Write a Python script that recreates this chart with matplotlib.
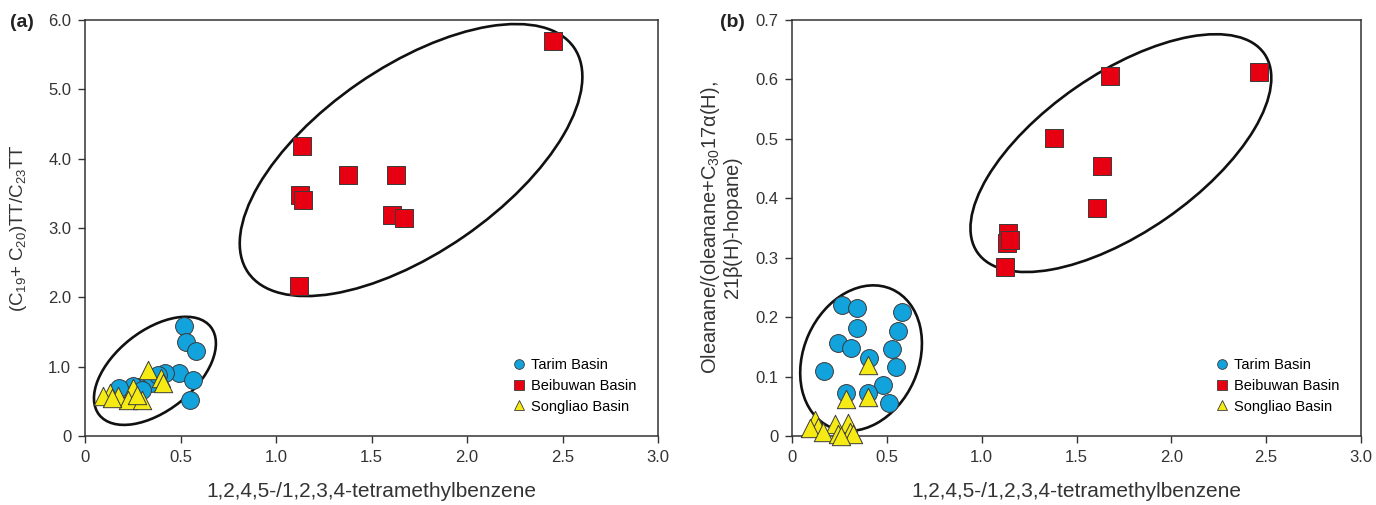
import matplotlib
matplotlib.use("Agg")
import matplotlib.pyplot as plt
import matplotlib.transforms as mtransforms
from matplotlib.patches import Ellipse
from matplotlib.lines import Line2D

plt.rcParams['font.family'] = ['Liberation Sans', 'DejaVu Sans']
plt.rcParams['mathtext.fontset'] = 'custom'
plt.rcParams['mathtext.rm'] = 'Liberation Sans'
plt.rcParams['mathtext.it'] = 'Liberation Sans:italic'
plt.rcParams['mathtext.default'] = 'regular'

# ---------------- data: panel (a) ----------------
tarim_a_x = [0.518, 0.529, 0.581, 0.490, 0.419, 0.564, 0.550, 0.346, 0.279, 0.253, 0.180, 0.380, 0.300]
tarim_a_y = [1.59, 1.36, 1.23, 0.91, 0.91, 0.81, 0.52, 0.77, 0.71, 0.72, 0.69, 0.88, 0.66]
beibu_a_x = [2.45, 1.136, 1.126, 1.14, 1.377, 1.628, 1.607, 1.67, 1.12]
beibu_a_y = [5.70, 4.18, 3.48, 3.40, 3.76, 3.76, 3.19, 3.14, 2.16]
song_a_x = [0.332, 0.400, 0.410, 0.253, 0.131, 0.096, 0.174, 0.227, 0.297, 0.140, 0.270]
song_a_y = [0.95, 0.83, 0.76, 0.69, 0.62, 0.57, 0.57, 0.52, 0.52, 0.55, 0.59]

# ---------------- data: panel (b) ----------------
tarim_b_x = [0.265, 0.341, 0.578, 0.344, 0.560, 0.241, 0.311, 0.525, 0.408, 0.548, 0.169, 0.481, 0.283, 0.402, 0.513]
tarim_b_y = [0.220, 0.215, 0.208, 0.181, 0.177, 0.157, 0.148, 0.146, 0.132, 0.116, 0.109, 0.086, 0.072, 0.073, 0.055]
beibu_b_x = [2.463, 1.676, 1.381, 1.633, 1.606, 1.137, 1.132, 1.149, 1.123]
beibu_b_y = [0.613, 0.605, 0.502, 0.454, 0.383, 0.342, 0.324, 0.330, 0.285]
song_b_x = [0.402, 0.283, 0.402, 0.121, 0.139, 0.227, 0.297, 0.095, 0.165, 0.244, 0.306, 0.320, 0.260]
song_b_y = [0.119, 0.063, 0.066, 0.027, 0.016, 0.020, 0.022, 0.013, 0.007, 0.003, 0.007, 0.003, 0.000]

x_ticks = [0, 0.5, 1.0, 1.5, 2.0, 2.5, 3.0]
x_ticklabels = ['0', '0.5', '1.0', '1.5', '2.0', '2.5', '3.0']
ya_ticks = [0, 1, 2, 3, 4, 5, 6]
ya_ticklabels = ['0', '1.0', '2.0', '3.0', '4.0', '5.0', '6.0']
yb_ticks = [0, 0.1, 0.2, 0.3, 0.4, 0.5, 0.6, 0.7]
yb_ticklabels = ['0', '0.1', '0.2', '0.3', '0.4', '0.5', '0.6', '0.7']

series_labels = ['Tarim Basin', 'Beibuwan Basin', 'Songliao Basin']
xlabel = '1,2,4,5-/1,2,3,4-tetramethylbenzene'
ylabel_a = '(C$_{19}$+ C$_{20}$)TT/C$_{23}$TT'
ylabel_b = 'Oleanane/(oleanane+C$_{30}$17$\\alpha$(H),\n21$\\beta$(H)-hopane)'

C_BLUE = '#12A3DD'
C_RED = '#E60012'
C_YEL = '#F5EA14'
EDGE = '#3a3a3a'

fig = plt.figure(figsize=(13.76, 5.05), dpi=100)
ax_a = fig.add_axes([0.0618, 0.1366, 0.4164, 0.8238])
ax_b = fig.add_axes([0.5756, 0.1366, 0.4135, 0.8238])


def style_axes(ax, yticks, yticklabels, ymax):
    ax.set_xlim(0, 3.0)
    ax.set_ylim(0, ymax)
    ax.set_xticks(x_ticks)
    ax.set_xticklabels(x_ticklabels)
    ax.set_yticks(yticks)
    ax.set_yticklabels(yticklabels)
    ax.tick_params(direction='out', length=5, width=1.0, color='#333333',
                   labelsize=12, labelcolor='#333333', top=False, right=False, pad=5)
    for s in ax.spines.values():
        s.set_linewidth(1.1)
        s.set_color('#333333')
    ax.set_xlabel(xlabel, fontsize=15, color='#333333', labelpad=12)


def add_ellipse(ax, cx, cy, w_px, h_px, angle):
    trans = fig.dpi_scale_trans + mtransforms.ScaledTranslation(cx, cy, ax.transData)
    e = Ellipse((0, 0), w_px / 100.0, h_px / 100.0, angle=angle, transform=trans,
                fill=False, edgecolor='#111111', linewidth=1.9, zorder=2)
    ax.add_patch(e)


def draw_points(ax, tx, ty, bx, by, sx, sy):
    ax.scatter(tx, ty, s=165, marker='o', facecolor=C_BLUE, edgecolor=EDGE, linewidth=0.7, zorder=3, clip_on=False)
    ax.scatter(sx, sy, s=175, marker='^', facecolor=C_YEL, edgecolor=EDGE, linewidth=0.7, zorder=4, clip_on=False)
    ax.scatter(bx, by, s=185, marker='s', facecolor=C_RED, edgecolor=EDGE, linewidth=0.7, zorder=5, clip_on=False)


def add_legend(ax):
    handles = [
        Line2D([], [], marker='o', linestyle='none', markersize=7, markerfacecolor=C_BLUE, markeredgecolor=EDGE, markeredgewidth=0.6),
        Line2D([], [], marker='s', linestyle='none', markersize=7, markerfacecolor=C_RED, markeredgecolor=EDGE, markeredgewidth=0.6),
        Line2D([], [], marker='^', linestyle='none', markersize=7, markerfacecolor=C_YEL, markeredgecolor=EDGE, markeredgewidth=0.6),
    ]
    ax.legend(handles, series_labels, loc='lower right', bbox_to_anchor=(0.972, 0.04), frameon=False,
              fontsize=10.5, handletextpad=0.2, labelspacing=0.45, handlelength=1.2, borderaxespad=0)


# panel (a)
style_axes(ax_a, ya_ticks, ya_ticklabels, 6.0)
add_ellipse(ax_a, 1.707, 3.98, 396, 186, 34.6)
add_ellipse(ax_a, 0.366, 0.94, 142, 80, 38.3)
draw_points(ax_a, tarim_a_x, tarim_a_y, beibu_a_x, beibu_a_y, song_a_x, song_a_y)
add_legend(ax_a)
ax_a.set_ylabel(ylabel_a, fontsize=13.5, color='#333333', labelpad=14)
fig.text(0.007, 0.955, '(a)', fontsize=14, fontweight='bold', color='#222222', va='center')

# panel (b)
style_axes(ax_b, yb_ticks, yb_ticklabels, 0.7)
add_ellipse(ax_b, 1.734, 0.476, 349, 159, 34.7)
add_ellipse(ax_b, 0.364, 0.131, 151, 115, 65.9)
draw_points(ax_b, tarim_b_x, tarim_b_y, beibu_b_x, beibu_b_y, song_b_x, song_b_y)
add_legend(ax_b)
ax_b.set_ylabel(ylabel_b, fontsize=14.5, color='#333333', labelpad=7, linespacing=1.0)
fig.text(0.523, 0.955, '(b)', fontsize=14, fontweight='bold', color='#222222', va='center')

fig.savefig('out.png', dpi=100)
